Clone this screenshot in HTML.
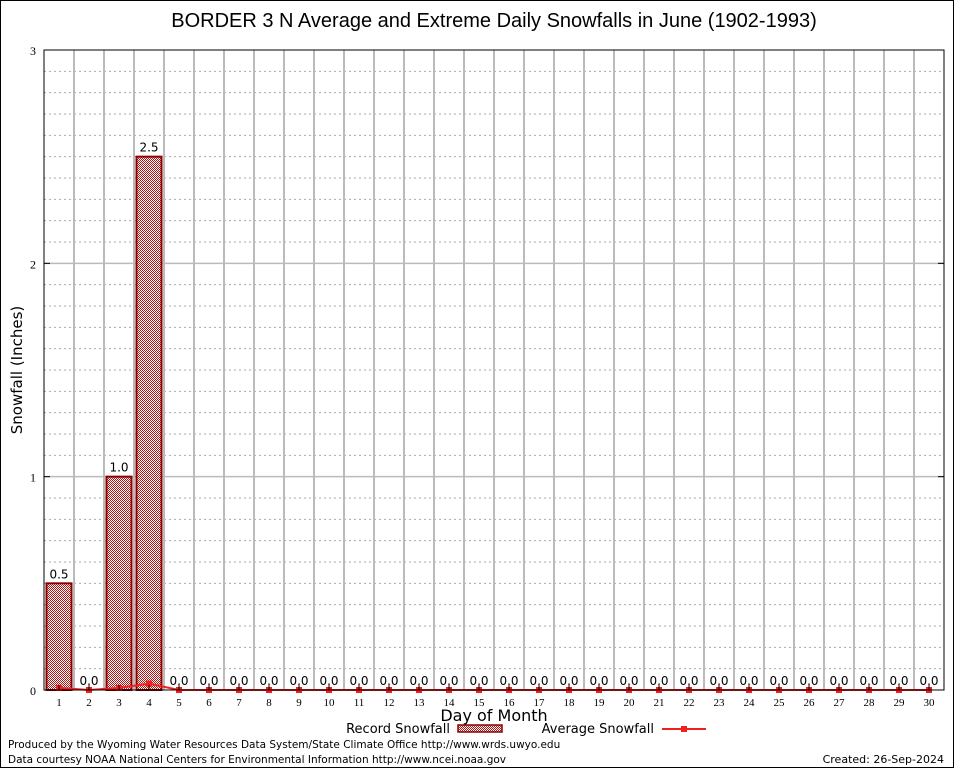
<!DOCTYPE html>
<html><head><meta charset="utf-8"><style>
body{margin:0;background:#fff}
svg{display:block;font-family:"DejaVu Sans",sans-serif}
</style></head><body>
<svg width="954" height="768" xmlns="http://www.w3.org/2000/svg">
<defs>
<pattern id="chk" width="2" height="2" patternUnits="userSpaceOnUse">
<rect width="2" height="2" fill="#fff"/><rect width="1" height="1" fill="#b01818"/><rect x="1" y="1" width="1" height="1" fill="#b01818"/>
</pattern>
</defs>
<rect x="0.5" y="0.5" width="953" height="767" fill="#fff" stroke="#000"/>
<text x="494" y="27" font-size="20" text-anchor="middle" font-family="Liberation Sans,sans-serif">BORDER 3 N Average and Extreme Daily Snowfalls in June (1902-1993)</text>
<g id="grid"></g><g id="bars"></g><g id="avg"></g><g id="axes"></g>
<text x="22" y="370" font-size="15" text-anchor="middle" transform="rotate(-90 22 370)">Snowfall (Inches)</text>
<text x="494" y="721" font-size="16" text-anchor="middle">Day of Month</text>
<g>
<text x="450" y="733" font-size="13" text-anchor="end">Record Snowfall</text>
<rect x="458" y="725" width="44" height="7" fill="url(#chk)" stroke="#8b0000" stroke-width="1.5"/>
</g>
<g>
<text x="654" y="733" font-size="13" text-anchor="end">Average Snowfall</text>
<line x1="662" y1="729" x2="706" y2="729" stroke="#f02020" stroke-width="2"/>
<rect x="681" y="726" width="6" height="6" fill="#f02020"/>
</g>
<text x="8" y="748" font-size="10.5">Produced by the Wyoming Water Resources Data System/State Climate Office http://www.wrds.uwyo.edu</text>
<text x="8" y="763" font-size="10.5">Data courtesy NOAA National Centers for Environmental Information http://www.ncei.noaa.gov</text>
<text x="944" y="763" font-size="11" text-anchor="end">Created: 26-Sep-2024</text>
</svg>
<script>
const days=[1,2,3,4,5,6,7,8,9,10,11,12,13,14,15,16,17,18,19,20,21,22,23,24,25,26,27,28,29,30];
const recordSnow=[0.5,0,1.0,2.5,0,0,0,0,0,0,0,0,0,0,0,0,0,0,0,0,0,0,0,0,0,0,0,0,0,0];
const avgSnow=[0.01,0,0.01,0.03,0,0,0,0,0,0,0,0,0,0,0,0,0,0,0,0,0,0,0,0,0,0,0,0,0,0];
const yTicks=[0,1,2,3];
const L=44,R=944,T=50,B=690,yMax=3;
const xs=d=>L+(d-0.5)*(R-L)/days.length;
const ys=v=>B-v*(B-T)/yMax;
const NS="http://www.w3.org/2000/svg";
function mk(p,t,a){const e=document.createElementNS(NS,t);for(const k in a)e.setAttribute(k,a[k]);p.appendChild(e);return e;}
const grid=document.getElementById('grid'),bars=document.getElementById('bars'),avg=document.getElementById('avg'),axes=document.getElementById('axes');
for(let v=0.1;v<yMax-0.01;v+=0.1){if(Math.abs(v-Math.round(v))<0.01)continue;
const g=mk(grid,'line',{x1:L,x2:R,y1:ys(v),y2:ys(v),stroke:'#aaa','stroke-dasharray':'2,3','stroke-width':1});

}
for(const t of yTicks){if(t>0&&t<yMax){const g=mk(grid,'line',{x1:L,x2:R,y1:ys(t),y2:ys(t),stroke:'#bbb','stroke-width':1.5});

}
const tx=mk(axes,'text',{x:L-8,y:ys(t)+5,'font-size':12,'text-anchor':'end','font-family':'Liberation Serif,serif'});tx.textContent=t;


mk(axes,'line',{x1:L,x2:L+6,y1:ys(t),y2:ys(t),stroke:'#000'});mk(axes,'line',{x1:R,x2:R-6,y1:ys(t),y2:ys(t),stroke:'#000'});}
for(let i=1;i<days.length;i++){const x=L+i*(R-L)/days.length;
const g=mk(grid,'line',{x1:x,x2:x,y1:T,y2:B,stroke:'#bbb','stroke-width':2});

}
days.forEach((d,i)=>{const v=recordSnow[i],cx=xs(d);
if(v>0){const r=mk(bars,'rect',{x:cx-12.5,y:ys(v),width:25,height:B-ys(v),fill:'url(#chk)',stroke:'#8b0000','stroke-width':2});

}
const lb=mk(bars,'text',{x:cx,y:ys(v)-5,'font-size':12,'text-anchor':'middle'});lb.textContent=v.toFixed(1);


const tl=mk(axes,'text',{x:cx,y:B+16,'font-size':11,'text-anchor':'middle','font-family':'Liberation Serif,serif'});tl.textContent=d;


mk(axes,'line',{x1:cx,x2:cx,y1:B,y2:B-5,stroke:'#000'});});
const pl=mk(avg,'polyline',{points:days.map((d,i)=>xs(d)+','+ys(avgSnow[i])).join(' '),fill:'none',stroke:'#f02020','stroke-width':2});


days.forEach((d,i)=>{const p=mk(avg,'rect',{x:xs(d)-3,y:ys(avgSnow[i])-3,width:6,height:6,fill:'#f02020'});

});
const fr=mk(axes,'rect',{x:L,y:T,width:R-L,height:B-T,fill:'none',stroke:'#000','stroke-width':1});


</script>
</body></html>
